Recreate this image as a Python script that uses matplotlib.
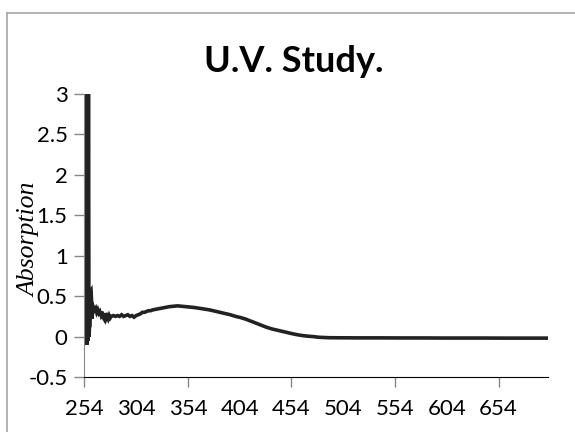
import numpy as np
import matplotlib
matplotlib.use("Agg")
import matplotlib.pyplot as plt
from matplotlib.lines import Line2D

# wavelength (nm) and absorption
wavelength = [
    254.0, 254.5, 255.0, 255.5, 256.0, 256.5, 257.0, 257.5, 258.0, 258.5,
    259.0, 259.5, 260.0, 260.5, 261.0, 261.5, 262.0, 263.0, 264.0, 265.0,
    266.0, 267.0, 268.0, 269.0, 270.0, 271.0, 272.0, 273.0, 274.0, 275.0,
    276.0, 277.0, 278.0, 279.0, 280.0, 282.0, 284.0, 286.0, 288.0, 290.0,
    292.0, 294.0, 296.0, 298.0, 300.0, 302.0, 304.0, 306.0, 308.0, 310.0,
    312.0, 314.0, 316.0, 318.0, 320.0, 324.0, 328.0, 332.0, 336.0, 340.0,
    344.0, 348.0, 352.0, 356.0, 360.0, 365.0, 370.0, 375.0, 380.0, 385.0,
    390.0, 395.0, 400.0, 405.0, 410.0, 415.0, 420.0, 425.0, 430.0, 435.0,
    440.0, 445.0, 450.0, 455.0, 460.0, 465.0, 470.0, 475.0, 480.0, 490.0,
    500.0, 520.0, 540.0, 560.0, 580.0, 600.0, 620.0, 640.0, 660.0, 680.0,
    702.0,
]
absorption = [
    3.6, -0.10, 3.6, -0.08, 3.6, -0.10, 3.6, -0.05, 3.6, 0.00,
    0.12, 0.13, 0.56, 0.57, 0.45, 0.22, 0.30, 0.36, 0.33, 0.35,
    0.30, 0.33, 0.29, 0.31, 0.27, 0.31, 0.24, 0.22, 0.29, 0.22,
    0.25, 0.22, 0.26, 0.23, 0.25, 0.26, 0.25, 0.26, 0.25, 0.27,
    0.25, 0.26, 0.27, 0.25, 0.26, 0.24, 0.26, 0.27, 0.28, 0.30,
    0.30, 0.31, 0.32, 0.32, 0.33, 0.34, 0.35, 0.36, 0.37, 0.375,
    0.38, 0.375, 0.37, 0.365, 0.36, 0.35, 0.34, 0.33, 0.315, 0.30,
    0.285, 0.27, 0.25, 0.235, 0.215, 0.19, 0.165, 0.14, 0.115, 0.095,
    0.08, 0.065, 0.05, 0.035, 0.022, 0.012, 0.005, 0.0, -0.008, -0.014,
    -0.015, -0.016, -0.016, -0.017, -0.017, -0.018, -0.018, -0.018, -0.019, -0.019,
    -0.019,
]

x_ticks = [254, 304, 354, 404, 454, 504, 554, 604, 654]
y_ticks = [-0.5, 0, 0.5, 1, 1.5, 2, 2.5, 3]
y_labels = ["-0.5", "0", "0.5", "1", "1.5", "2", "2.5", "3"]

fig = plt.figure(figsize=(5.75, 4.32), dpi=100)
ax = fig.add_axes([0.1466, 0.1273, 0.807, 0.655])

ax.plot(wavelength, absorption, color="#222222", lw=2.6, solid_joinstyle="miter")

ax.set_xlim(254, 702)
ax.set_ylim(-0.5, 3)
ax.set_xticks(x_ticks)
ax.set_xticklabels([str(t) for t in x_ticks])
ax.set_yticks(y_ticks)
ax.set_yticklabels(y_labels)

# only every other x tick has a mark, like the original
for i, tick in enumerate(ax.xaxis.get_major_ticks()):
    if i % 2 == 1:
        tick.tick1line.set_visible(False)

for side in ["top", "right"]:
    ax.spines[side].set_visible(False)
ax.spines["left"].set_color("#868686")
ax.spines["bottom"].set_color("#000000")
ax.tick_params(axis="both", colors="#868686", labelcolor="#000000",
               labelsize=16, length=7, width=1)
ax.tick_params(axis="x", pad=9)
ax.tick_params(axis="y", pad=5)
for lab in ax.get_xticklabels() + ax.get_yticklabels():
    lab.set_family("Lato")

fig.text(0.511, 0.834, "U.V. Study.", ha="center", va="baseline",
         fontsize=26, fontweight="bold", family="Lato")
# the original axis title sits on top of the tick labels
fig.text(0.052, 0.446, "Absorption", ha="center", va="center", rotation=90,
         fontsize=18.5, style="italic", family="Liberation Serif")

# chart frame: only its left and top edges fall inside the picture
frame_x = 7 / 575
frame_y = 1 - 13 / 432
fig.add_artist(Line2D([frame_x, frame_x], [0, frame_y], transform=fig.transFigure,
                      color="#a6a6a6", lw=1.2))
fig.add_artist(Line2D([frame_x, 1], [frame_y, frame_y], transform=fig.transFigure,
                      color="#a6a6a6", lw=1.2))

fig.savefig("out.png", dpi=100)
